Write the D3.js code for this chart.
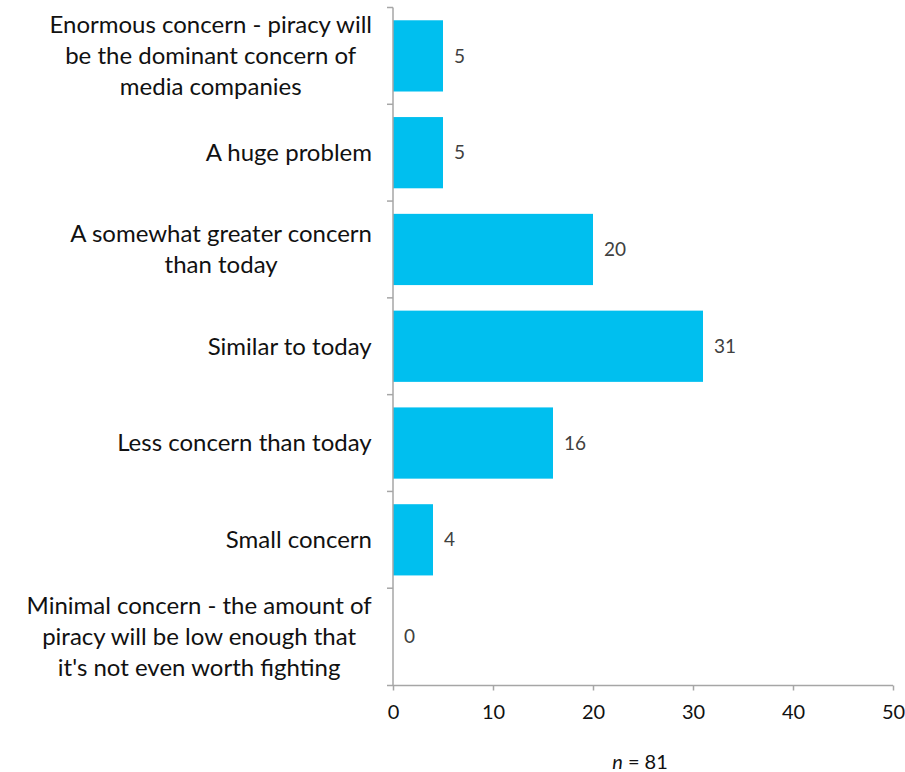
<!DOCTYPE html>
<html><head><meta charset="utf-8">
<script src="https://cdn.jsdelivr.net/npm/d3@7"></script>
<style>body{margin:0;background:#fff}</style>
</head><body>
<svg id="c" width="905" height="772"></svg>
<script>
const categories = [
  ["Enormous concern - piracy will","be the dominant concern of","media companies"],
  ["A huge problem"],
  ["A somewhat greater concern","than today"],
  ["Similar to today"],
  ["Less concern than today"],
  ["Small concern"],
  ["Minimal concern - the amount of","piracy will be low enough that","it's not even worth fighting"]
];
const values = [5, 5, 20, 31, 16, 4, 0];
const xTicks = [0, 10, 20, 30, 40, 50];
const note = "81";

const svg = d3.select("#c");
const m = {left: 393, right: 12, top: 7.5, bottom: 87};
const W = 905, H = 772;
const x = d3.scaleLinear().domain([0, 50]).range([m.left, W - m.right]);
const idx = d3.range(categories.length);
const y = d3.scaleBand().domain(idx).range([m.top, H - m.bottom]).paddingInner(0.264).paddingOuter(0.132);
const axisColor = "#a6a6a6";
const font = "Lato, 'Liberation Sans', sans-serif";

// bars
svg.append("g").selectAll("rect").data(idx).join("rect")
  .attr("x", x(0)).attr("y", i => y(i))
  .attr("width", i => x(values[i]) - x(0))
  .attr("height", y.bandwidth())
  .attr("fill", "#00bfef");

// value labels
svg.append("g").selectAll("text").data(idx).join("text")
  .attr("x", i => x(values[i]) + 11)
  .attr("y", i => y(i) + y.bandwidth() / 2)
  .attr("dy", "0.35em")
  .attr("font-family", font).attr("font-size", 19).attr("fill", "#404040")
  .text(i => values[i]);

// x axis
const xa = svg.append("g").attr("transform", `translate(0,${H - m.bottom + 0.5})`)
  .call(d3.axisBottom(x).tickValues(xTicks).tickSize(5).tickPadding(14));
xa.select(".domain").attr("stroke", axisColor).attr("stroke-width", 1.5)
  .attr("d", `M${m.left - 6},0H${W - m.right}`);
xa.selectAll(".tick line").attr("stroke", axisColor).attr("stroke-width", 1.5);
xa.selectAll(".tick text").attr("font-family", font).attr("font-size", 20).attr("fill", "#111");

// y axis line with boundary ticks
const yb = d3.scaleLinear().domain([0, categories.length]).range([m.top, H - m.bottom]);
svg.append("line").attr("x1", m.left).attr("x2", m.left)
  .attr("y1", m.top).attr("y2", H - m.bottom)
  .attr("stroke", axisColor).attr("stroke-width", 1.5);
svg.append("g").selectAll("line").data(d3.range(categories.length)).join("line")
  .attr("x1", m.left - 6).attr("x2", m.left)
  .attr("y1", d => yb(d)).attr("y2", d => yb(d))
  .attr("stroke", axisColor).attr("stroke-width", 1.5);

// category labels
const lh = 31;
const lg = svg.append("g");
idx.forEach(i => {
  const lines = categories[i];
  const cy = y(i) + y.bandwidth() / 2;
  const t = lg.append("text")
    .attr("text-anchor", "middle")
    .attr("font-family", font).attr("font-size", 24).attr("fill", "#111");
  lines.forEach((l, k) => {
    t.append("tspan").attr("x", 0)
      .attr("y", cy + (k - (lines.length - 1) / 2) * lh)
      .attr("dy", "0.35em").text(l);
  });
  const bb = t.node().getBBox();
  t.attr("transform", `translate(${372 - bb.width / 2},0)`);
});

// n note
const nt = svg.append("text")
  .attr("x", (x(0) + x(50)) / 2 - 3).attr("y", 769)
  .attr("text-anchor", "middle")
  .attr("font-family", font).attr("font-size", 20).attr("fill", "#111");
nt.append("tspan").attr("font-style", "italic").text("n");
nt.append("tspan").text(" = " + note);
</script>
</body></html>
